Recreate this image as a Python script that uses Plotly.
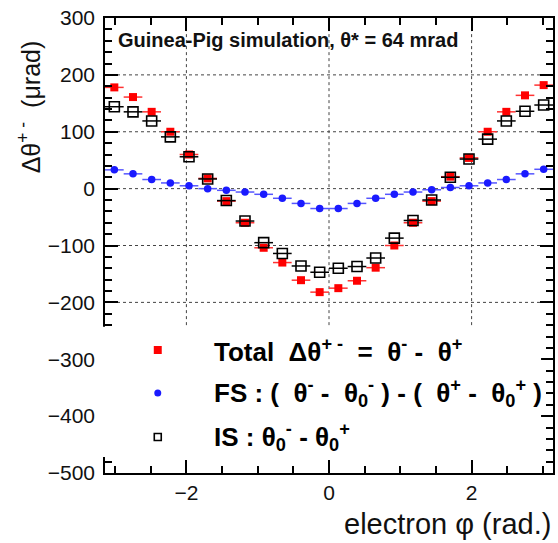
import numpy as np
import plotly.graph_objects as go

# 24 bins in electron azimuth, centred on each bin
n_bins = 24
phi_edges = np.linspace(-np.pi, np.pi, n_bins + 1)
phi = 0.5 * (phi_edges[:-1] + phi_edges[1:])
phi_halfwidth = 0.5 * (phi_edges[1] - phi_edges[0])

# Total deflection difference (μrad)
total = [178, 161, 135, 100, 60, 18, -22, -60, -104, -130, -161, -182,
         -175, -162, -139, -100, -60, -22, 21, 54, 100, 135, 164, 182]
# Final-state contribution (μrad)
fs = [33, 26, 16, 10, 5, 0, -3, -6, -10, -17, -26, -35,
      -35, -26, -17, -10, -6, -2, 2, 5, 10, 16, 26, 34]
# Initial-state contribution (μrad)
is_ = [144, 135, 119, 91, 56, 17, -21, -57, -95, -114, -136, -147,
       -140, -137, -122, -87, -56, -20, 20, 52, 87, 119, 136, 147]

x_range = [-np.pi, np.pi]
y_range = [-500, 300]
x_major = [-2, 0, 2]
x_minor = list(np.arange(-3.0, 3.01, 0.5))
y_grid = [-200, -100, 0, 100, 200]
grid_ymin = -240

FONT = "Liberation Sans, Arial, sans-serif"
NB = "\u00a0"

W = 450.0
H = 455.0


def px_y(v):
    return (v - y_range[0]) / (y_range[1] - y_range[0])


def py(p):
    # pixel row -> paper y
    return 1 - (p - 18) / H


def px(p):
    # pixel column -> paper x
    return (p - 105) / W


fig = go.Figure()

fig.add_trace(go.Scatter(
    x=phi, y=fs, mode="markers", name="FS",
    marker=dict(symbol="circle", size=7.5, color="#1a1aff"),
    error_x=dict(type="constant", value=phi_halfwidth, width=0,
                 thickness=1.5, color="#5555ff"),
))
fig.add_trace(go.Scatter(
    x=phi, y=total, mode="markers", name="Total",
    marker=dict(symbol="square", size=8, color="#ff0000"),
    error_x=dict(type="constant", value=phi_halfwidth, width=0,
                 thickness=1.5, color="#ff3333"),
))
fig.add_trace(go.Scatter(
    x=phi, y=is_, mode="markers", name="IS",
    marker=dict(symbol="square-open", size=10, color="black",
                line=dict(width=1.6, color="black")),
    error_x=dict(type="constant", value=phi_halfwidth, width=0,
                 thickness=1.5, color="black"),
))

shapes = []
# dotted grid in the upper region only
for gx in x_major:
    shapes.append(dict(type="line", xref="x", yref="y", x0=gx, x1=gx,
                       y0=grid_ymin, y1=y_range[1], layer="below",
                       line=dict(color="#444", width=1, dash="dot")))
for gy in y_grid:
    shapes.append(dict(type="line", xref="x", yref="y", x0=x_range[0],
                       x1=x_range[1], y0=gy, y1=gy, layer="below",
                       line=dict(color="#444", width=1, dash="dot")))

# white legend box covering the lower part of the frame
shapes.append(dict(type="rect", xref="paper", yref="paper",
                   x0=px(102), x1=px(543), y0=px_y(-472), y1=px_y(-243),
                   fillcolor="white", line=dict(width=0), layer="above"))

# legend symbols
lx = px(158)
row_y = [350, 393, 437]


def sq(cx, cy, s):
    return dict(x0=cx - s / 2 / W, x1=cx + s / 2 / W,
                y0=py(cy) - s / 2 / H, y1=py(cy) + s / 2 / H)


shapes.append(dict(type="rect", xref="paper", yref="paper", layer="above",
                   fillcolor="#ff0000", line=dict(width=0), **sq(lx, row_y[0], 8)))
shapes.append(dict(type="circle", xref="paper", yref="paper", layer="above",
                   fillcolor="#1a1aff", line=dict(width=0), **sq(lx, row_y[1], 7)))
shapes.append(dict(type="rect", xref="paper", yref="paper", layer="above",
                   fillcolor="white", line=dict(width=1.6, color="black"),
                   **sq(lx, row_y[2], 7)))

legend_text = [
    f"<b>Total{NB}{NB}Δθ<sup>+ -</sup>{NB}{NB}={NB}{NB}θ<sup>-</sup>{NB}-{NB}{NB}θ<sup>+</sup></b>",
    f"<b>FS{NB}:{NB}({NB}{NB}θ<sup>-</sup>{NB}-{NB}{NB}θ<sub>0</sub><sup>-</sup>{NB}){NB}-{NB}({NB}{NB}θ<sup>+</sup>{NB}-{NB}{NB}θ<sub>0</sub><sup>+</sup>{NB})</b>",
    f"<b>IS{NB}:{NB}θ<sub>0</sub><sup>-</sup>{NB}-{NB}θ<sub>0</sub><sup>+</sup></b>",
]

annotations = []
for txt, ry in zip(legend_text, row_y):
    annotations.append(dict(text=txt, xref="paper", yref="paper",
                            x=px(212), y=py(ry), xanchor="left",
                            yanchor="middle", showarrow=False,
                            font=dict(family=FONT, size=26, color="black")))

annotations.append(dict(
    text="<b>Guinea-Pig simulation, θ* = 64 mrad</b>", xref="paper",
    yref="paper", x=px(116), y=py(40), xanchor="left",
    yanchor="middle", showarrow=False,
    font=dict(family=FONT, size=20, color="#111")))

annotations.append(dict(
    text="Δθ<sup>+ -</sup>  (μrad)", xref="paper", yref="paper",
    x=px(29), y=py(107), xanchor="center", yanchor="middle",
    textangle=-90, showarrow=False,
    font=dict(family=FONT, size=25, color="#111")))

annotations.append(dict(
    text="electron φ (rad.)", xref="paper", yref="paper",
    x=px(555), y=py(524), xanchor="right", yanchor="middle",
    showarrow=False, font=dict(family=FONT, size=29, color="#111")))

fig.update_layout(
    width=558, height=543,
    margin=dict(l=105, r=3, t=18, b=70),
    paper_bgcolor="white", plot_bgcolor="white",
    showlegend=False,
    shapes=shapes, annotations=annotations,
    font=dict(family=FONT, size=21, color="#111"),
)

fig.update_xaxes(
    range=x_range, tickvals=x_major, ticktext=["−2", "0", "2"],
    ticks="inside", ticklen=13, tickwidth=1.5, tickcolor="black",
    showline=True, linecolor="black", linewidth=1.5, mirror="ticks",
    showgrid=False, zeroline=False,
    minor=dict(tickvals=x_minor, ticks="inside", ticklen=7,
               tickwidth=1.5, tickcolor="black", showgrid=False),
    tickfont=dict(family=FONT, size=21, color="#111"),
)
fig.update_yaxes(
    range=y_range, dtick=100, tick0=0,
    ticks="inside", ticklen=13, tickwidth=1.5, tickcolor="black",
    showline=True, linecolor="black", linewidth=1.5, mirror="ticks",
    showgrid=False, zeroline=False,
    minor=dict(dtick=20, ticks="inside", ticklen=7, tickwidth=1.5,
               tickcolor="black", showgrid=False),
    tickfont=dict(family=FONT, size=21, color="#111"),
    ticklabelstandoff=4,
)

fig.write_html("out.html")
